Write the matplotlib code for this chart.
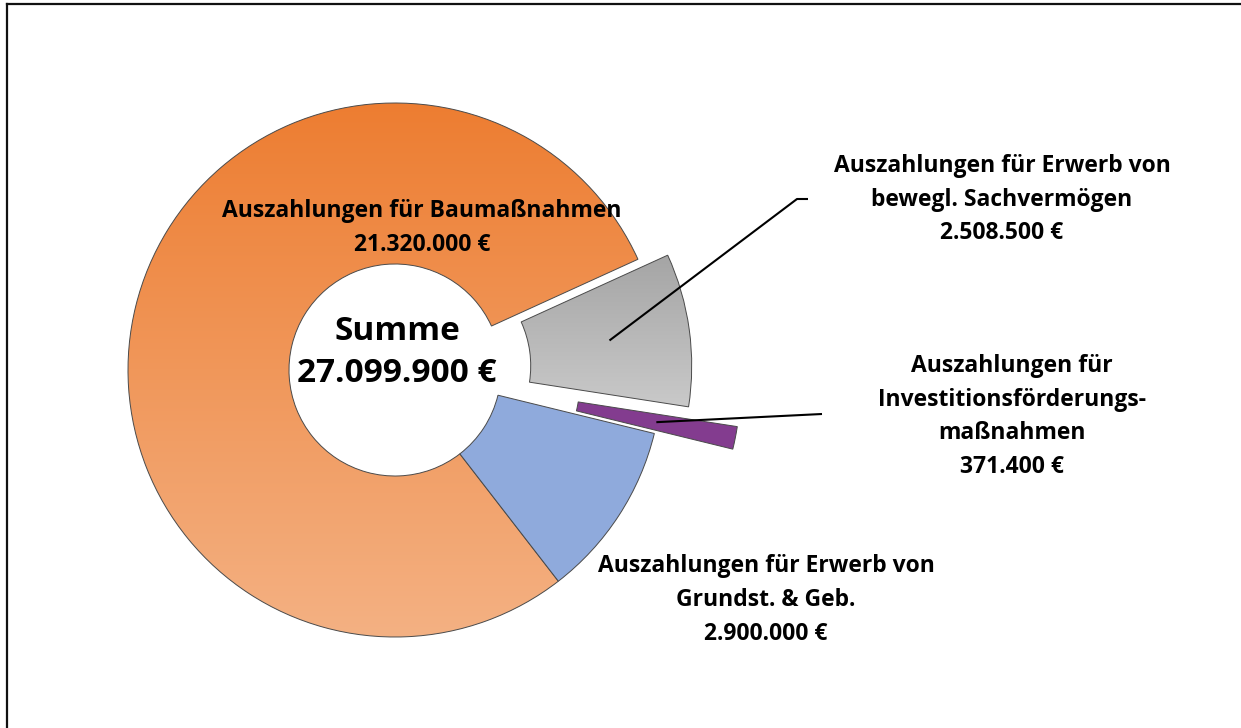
import numpy as np
import matplotlib
matplotlib.use('Agg')
import matplotlib.pyplot as plt
from matplotlib.colors import LinearSegmentedColormap
from matplotlib.lines import Line2D

plt.rcParams['font.family'] = ['Open Sans', 'DejaVu Sans']

# data (order of the ring, counter-clockwise from upper right)
categories = ['Auszahlungen für Baumaßnahmen',
              'Auszahlungen für Erwerb von\nGrundst. & Geb.',
              'Auszahlungen für\nInvestitionsförderungs-\nmaßnahmen',
              'Auszahlungen für Erwerb von\nbewegl. Sachvermögen']
values = [21320000, 2900000, 371400, 2508500]


def euro(v):
    return f"{v:,}".replace(',', '.') + ' €'


# layout in pixel units (axes spans whole figure)
W, H = 1241, 728
cx, cy = 395, H - 370
R, r_in = 267, 106
explode = [0, 0, 80, 30]
colors = ['#ED7D31', '#8FAADC', '#833C8F', '#B5B5B5']
gradients = {0: ('#ED7D31', '#F4B183'), 3: ('#A5A5A5', '#C9C9C9')}

fig = plt.figure(figsize=(W / 100, H / 100), dpi=100)
ax = fig.add_axes([0, 0, 1, 1])

wedges, _ = ax.pie(values, colors=colors, startangle=24.5, counterclock=True,
                   explode=explode, radius=R, center=(cx, cy), frame=True,
                   wedgeprops=dict(width=R - r_in, edgecolor='#4a4a4a', linewidth=0.7))

# vertical colour gradients for orange and grey slices
grad = np.linspace(0, 1, 256).reshape(-1, 1)
for i, (c_top, c_bot) in gradients.items():
    w = wedges[i]
    verts = w.get_path().vertices
    x0, y0 = verts.min(axis=0)
    x1, y1 = verts.max(axis=0)
    cmap = LinearSegmentedColormap.from_list('g%d' % i, [c_top, c_bot])
    im = ax.imshow(grad, extent=(x0, x1, y0, y1), origin='upper', cmap=cmap,
                   aspect='auto', zorder=0.5, interpolation='bicubic')
    im.set_clip_path(w)
    w.set_facecolor('none')

# leader lines from middle of slice to label
r_mid = R - (R - r_in) / 2
leader_ends = {3: [(797, H - 199), (808, H - 199)], 2: [(822, H - 414)]}
for i, pts in leader_ends.items():
    w = wedges[i]
    th = np.deg2rad((w.theta1 + w.theta2) / 2)
    sx = w.center[0] + r_mid * np.cos(th)
    sy = w.center[1] + r_mid * np.sin(th)
    xs = [sx] + [p[0] for p in pts]
    ys = [sy] + [p[1] for p in pts]
    ax.plot(xs, ys, color='black', lw=1.5, solid_capstyle='butt')

# labels
label_pos = [(422, H - 228), (766, H - 600), (1012, H - 416.5), (1002, H - 199.5)]
for cat, v, (lx, ly) in zip(categories, values, label_pos):
    ax.text(lx, ly, cat + '\n' + euro(v), ha='center', va='center',
            fontsize=16.5, fontweight='bold', linespacing=1.53, color='black')

ax.text(cx + 2, H - 352, 'Summe\n' + euro(sum(values)), ha='center', va='center',
        fontsize=24, fontweight='bold', linespacing=1.36, color='black')

ax.set_xlim(0, W)
ax.set_ylim(0, H)
ax.set_aspect('equal')
ax.set_axis_off()

# chart-area border (clipped at right and bottom)
fig.add_artist(Line2D([6.5 / W, 6.5 / W], [0, 1 - 3.5 / H], color='#111111', lw=1.6))
fig.add_artist(Line2D([6.5 / W, 1], [1 - 3.5 / H, 1 - 3.5 / H], color='#111111', lw=1.6))

fig.savefig('out.png', dpi=100)
